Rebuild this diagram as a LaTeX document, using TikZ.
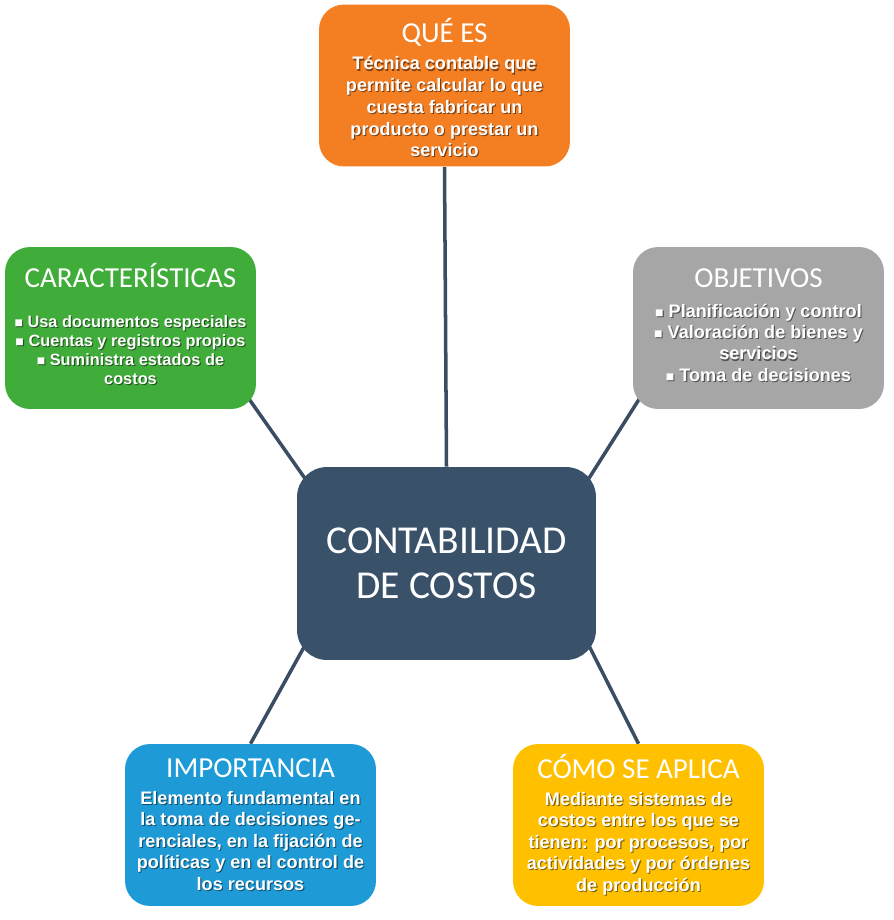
\documentclass[tikz,border=0pt]{standalone}
\usepackage{fontspec}
\setmainfont{Liberation Sans}
\newfontfamily\ttlfont{Carlito}
\usetikzlibrary{backgrounds}

\definecolor{quecol}{HTML}{F47E22}
\definecolor{carcol}{HTML}{40AD3A}
\definecolor{objcol}{HTML}{A6A6A6}
\definecolor{centcol}{HTML}{3A516A}
\definecolor{impcol}{HTML}{1E9BD7}
\definecolor{comocol}{HTML}{FFC000}
\definecolor{linkcol}{HTML}{3A4D63}
\colorlet{shcol}{black!50}

\newcommand{\ttl}[1]{{\ttlfont\mdseries\fontsize{16.5}{18}\selectfont #1}}
\newcommand{\blt}{{\fontsize{8}{6}\selectfont ■}~}
% white text with a soft dark shadow
\newcommand{\sh}[1]{\leavevmode\rlap{\raisebox{-0.6pt}{\kern0.6pt\textcolor{shcol}{#1}}}#1}

\tikzset{
  topic/.style={rounded corners=0.5cm, minimum width=5.02cm, minimum height=3.24cm,
    fill=#1, align=center, text=white, inner sep=0pt,
    execute at begin node={\colorlet{shcol}{#1!50!black}},
    font=\bfseries\fontsize{10.3}{12.2}\selectfont},
  centbox/.style={rounded corners=0.6cm, minimum width=5.98cm, minimum height=3.86cm,
    fill=centcol, align=center, text=white,
    font=\ttlfont\fontsize{22.5}{25.5}\selectfont},
  link/.style={draw=linkcol, line width=2pt},
}

\begin{document}
\begin{tikzpicture}[x=0.02cm, y=-0.02cm]
\useasboundingbox (0,0) rectangle (893,920);

% boxes
\node[topic=quecol, font=\bfseries\fontsize{10.3}{12.35}\selectfont] (ques) at (444.5,85.5)
  {\ttl{\rule{0pt}{17pt}QUÉ ES}\\[3.1pt] \sh{Técnica contable que}\\ \sh{permite calcular lo que}\\
   \sh{cuesta fabricar un}\\ \sh{producto o prestar un}\\ \sh{servicio}};
\node[topic=carcol, font=\bfseries\fontsize{9.3}{10.8}\selectfont, text depth=4.5pt] (carac) at (130.5,328)
  {\ttl{CARACTERÍSTICAS}\\[12pt] \sh{\blt Usa documentos especiales}\\ \sh{\blt Cuentas y registros propios}\\
   \sh{\blt Suministra estados de}\\ \sh{costos}};
\node[topic=objcol, text depth=3.6pt] (obj) at (758.5,328)
  {\ttl{OBJETIVOS}\\[4.9pt] \sh{\blt Planificación y control}\\ \sh{\blt Valoración de bienes y}\\
   \sh{servicios}\\ \sh{\blt Toma de decisiones}};
\node[centbox] (cent) at (446.5,563.5) {CONTABILIDAD\\ DE COSTOS};
\node[topic=impcol] (imp) at (250.5,825)
  {\ttl{IMPORTANCIA}\\[3.1pt] \sh{Elemento fundamental en}\\ \sh{la toma de decisiones ge-}\\
   \sh{renciales, en la fijación de}\\ \sh{políticas y en el control de}\\ \sh{los recursos}};
\node[topic=comocol] (como) at (638.5,825)
  {\ttl{CÓMO SE APLICA}\\[3.1pt] \sh{Mediante sistemas de}\\ \sh{costos entre los que se}\\
   \sh{tienen: por procesos, por}\\ \sh{actividades y por órdenes}\\ \sh{de producción}};

% connectors
\begin{scope}[on background layer]
\draw[link] (ques.south) -- (cent.north);
\draw[link, shorten <=-12pt, shorten >=-12pt] (carac.south east) -- (cent.north west);
\draw[link, shorten <=-12pt, shorten >=-12pt] (obj.south west) -- (cent.north east);
\draw[link, shorten <=-15pt] (cent.south west) -- (imp.north);
\draw[link, shorten <=-15pt] (cent.south east) -- (como.north);
\end{scope}
\end{tikzpicture}
\end{document}
